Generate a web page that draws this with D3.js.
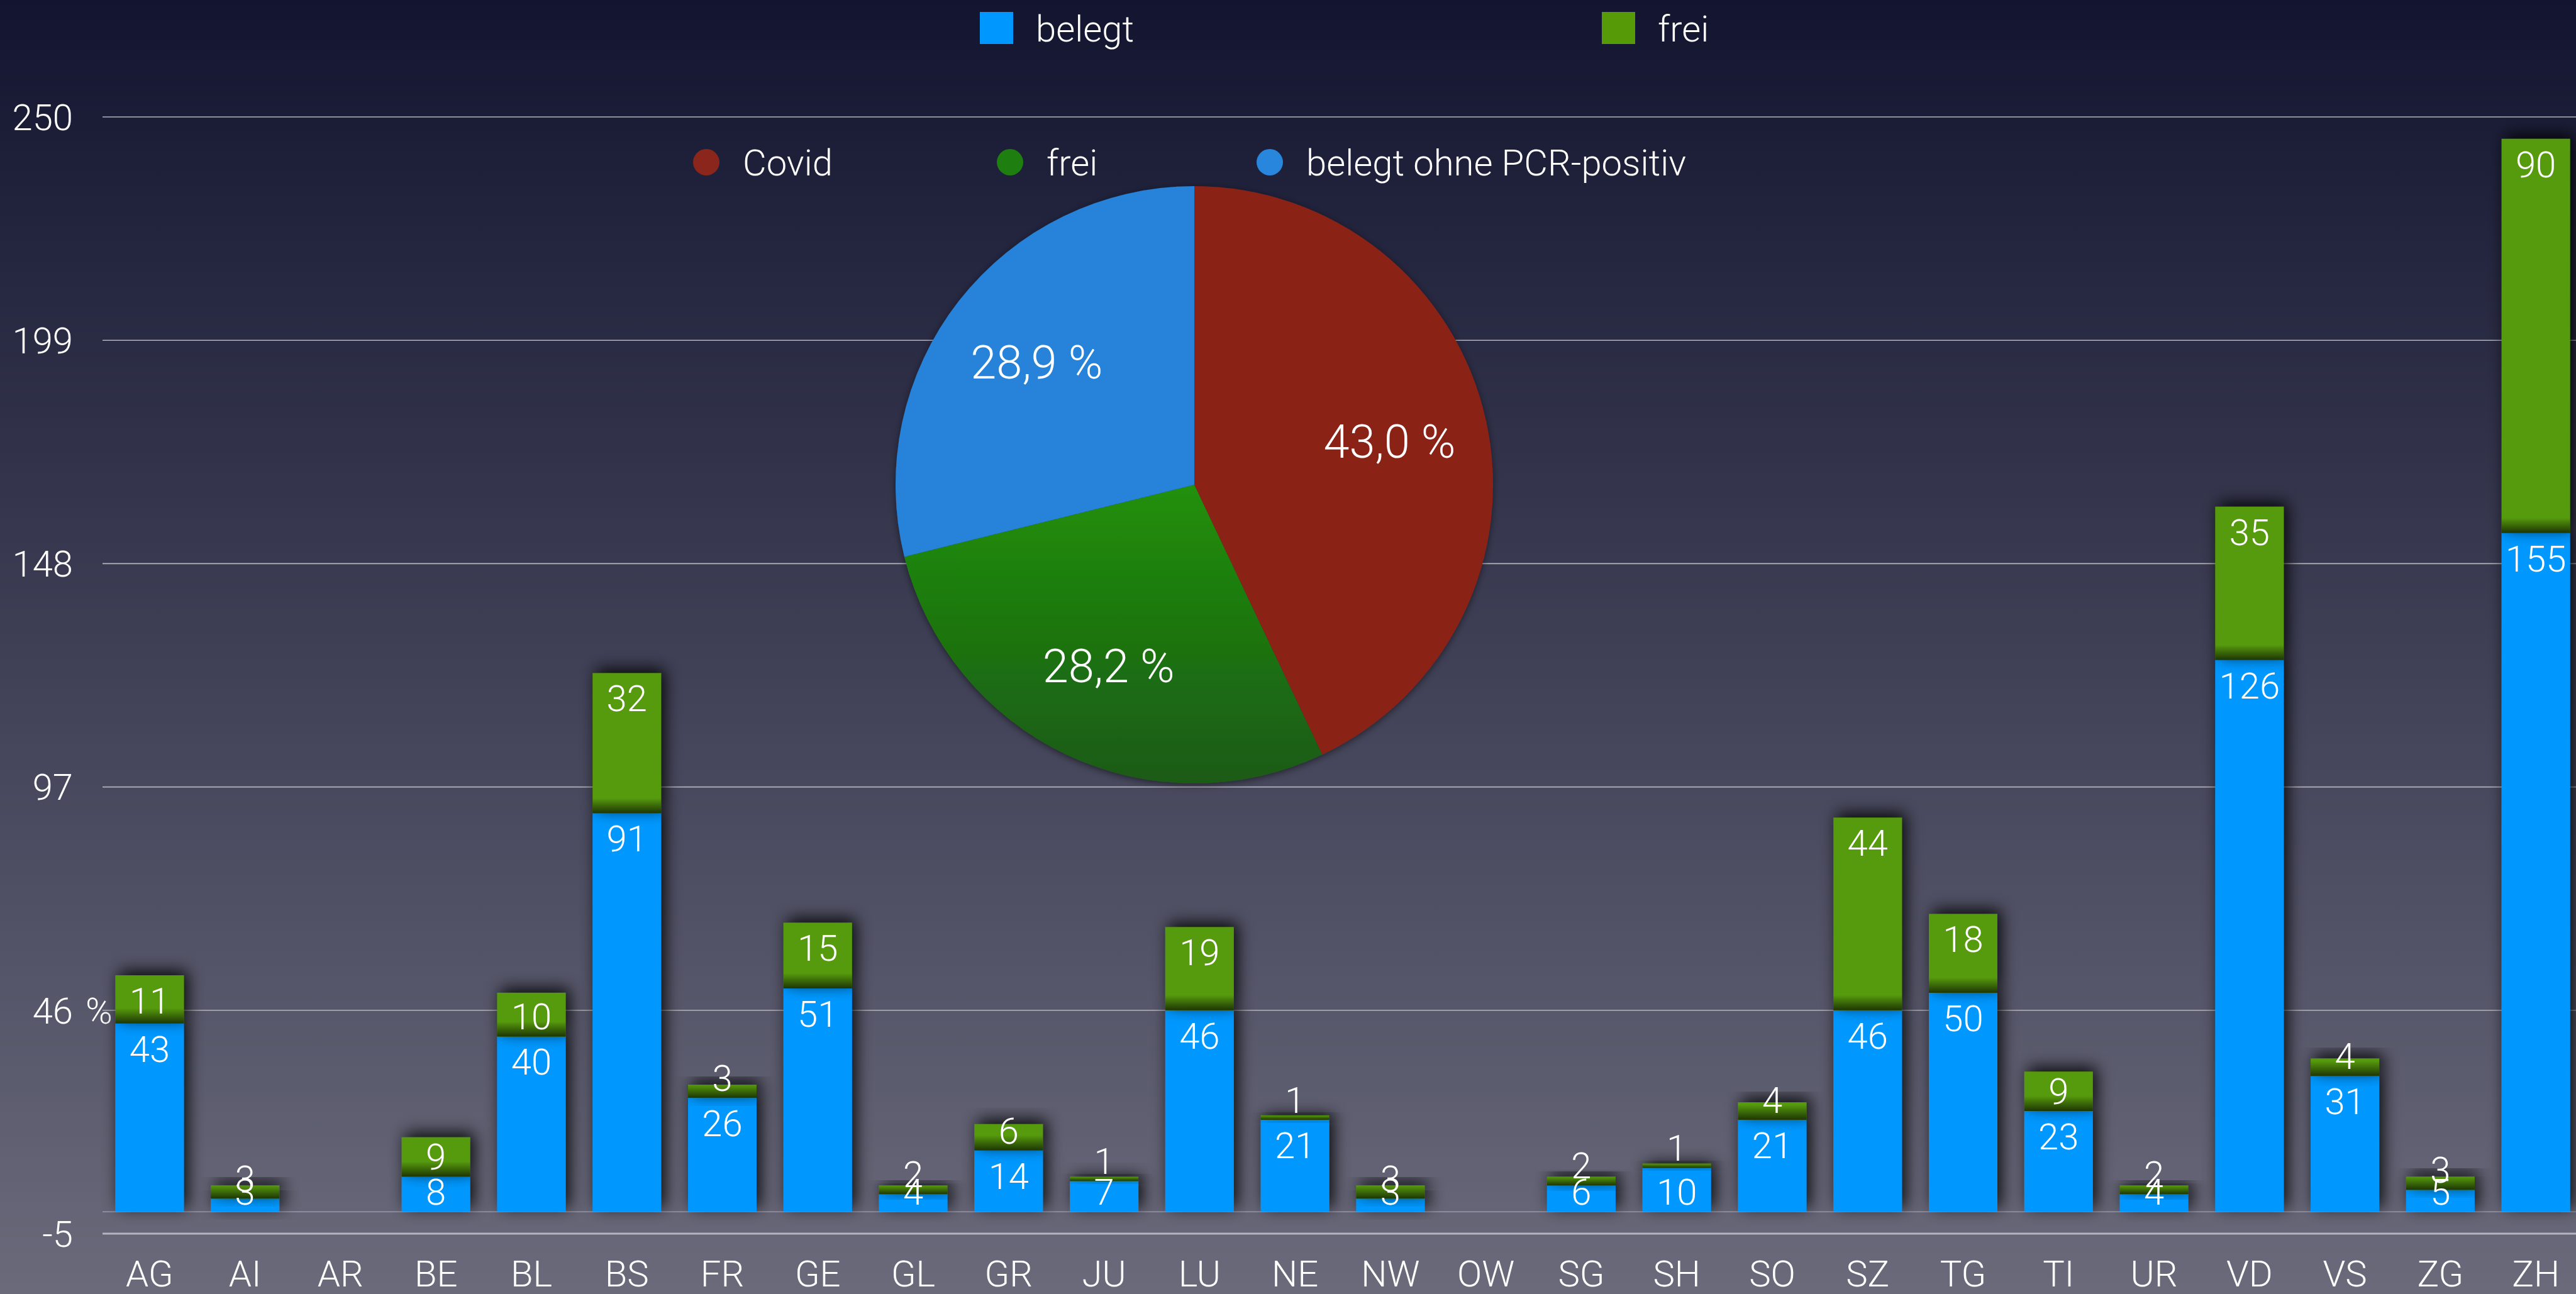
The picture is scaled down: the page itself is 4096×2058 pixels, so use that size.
<!DOCTYPE html>
<html>
<head>
<meta charset="utf-8">
<script src="https://cdn.jsdelivr.net/npm/d3@7"></script>
<style>
  html, body { margin: 0; padding: 0; background: #131530; }
  svg { display: block; }
  text { font-family: "Roboto", "Liberation Sans", sans-serif; font-weight: 300; fill: #fff; }
</style>
</head>
<body>
<svg id="chart"></svg>
<script>
// bar data: beds per canton
const cantons = ["AG","AI","AR","BE","BL","BS","FR","GE","GL","GR","JU","LU","NE","NW","OW","SG","SH","SO","SZ","TG","TI","UR","VD","VS","ZG","ZH"];
const belegt  = [43, 3, 0, 8, 40, 91, 26, 51, 4, 14, 7, 46, 21, 3, 0, 6, 10, 21, 46, 50, 23, 4, 126, 31, 5, 155];
const frei    = [11, 3, 0, 9, 10, 32, 3, 15, 2, 6, 1, 19, 1, 3, 0, 2, 1, 4, 44, 18, 9, 2, 35, 4, 3, 90];
const yTicks  = [-5, 46, 97, 148, 199, 250];
const barSeries = ["belegt", "frei"];

// pie data
const pieNames  = ["Covid", "frei", "belegt ohne PCR-positiv"];
const pieValues = [43.0, 28.2, 28.9];

const W = 4096, H = 2058;
const FS = 58;

const svg = d3.select("#chart").attr("width", W).attr("height", H);
const defs = svg.append("defs");

// background gradient
const bg = defs.append("linearGradient").attr("id", "bg").attr("x1", 0).attr("y1", 0).attr("x2", 0).attr("y2", 1);
bg.append("stop").attr("offset", "0%").attr("stop-color", "#131530");
bg.append("stop").attr("offset", "100%").attr("stop-color", "#6a6a7b");
svg.append("rect").attr("width", W).attr("height", H).attr("fill", "url(#bg)");

// shadows
const sh = defs.append("filter").attr("id", "shadow")
    .attr("x", "-60%").attr("y", "-60%").attr("width", "220%").attr("height", "220%");
sh.append("feDropShadow").attr("dx", 6).attr("dy", -7).attr("stdDeviation", 13)
    .attr("flood-color", "#000").attr("flood-opacity", 0.9);
const psh = defs.append("filter").attr("id", "pieshadow")
    .attr("x", "-20%").attr("y", "-20%").attr("width", "140%").attr("height", "140%");
psh.append("feDropShadow").attr("dx", 0).attr("dy", 3).attr("stdDeviation", 6)
    .attr("flood-color", "#000").attr("flood-opacity", 0.5);

// dark fade at the foot of the "frei" segments
const fade = defs.append("linearGradient").attr("id", "fade").attr("x1", 0).attr("y1", 0).attr("x2", 0).attr("y2", 1);
fade.append("stop").attr("offset", "0%").attr("stop-color", "#000").attr("stop-opacity", 0);
fade.append("stop").attr("offset", "100%").attr("stop-color", "#000").attr("stop-opacity", 0.65);

const pg = defs.append("linearGradient").attr("id", "pieGreen").attr("x1", 0).attr("y1", 0).attr("x2", 0).attr("y2", 1);
pg.append("stop").attr("offset", "0%").attr("stop-color", "#21900f");
pg.append("stop").attr("offset", "100%").attr("stop-color", "#1a5a13");

// scales
const x = d3.scaleBand().domain(cantons).range([162, 4108]).paddingInner(0.282).paddingOuter(0.141);
const y = d3.scaleLinear().domain([-5, 250]).range([1962, 186]);
const barColor = d3.scaleOrdinal().domain(barSeries).range(["#0098ff", "#579a07"]);

// gridlines + y labels
const grid = svg.append("g");
grid.selectAll("line.grid").data(yTicks).enter().append("line")
    .attr("class", "grid")
    .attr("x1", 163).attr("x2", W)
    .attr("y1", d => y(d)).attr("y2", d => y(d))
    .attr("stroke", "#b4b4be")
    .attr("stroke-width", d => d === -5 ? 3 : 1.6);
grid.append("line")
    .attr("x1", 163).attr("x2", W).attr("y1", y(0)).attr("y2", y(0))
    .attr("stroke", "#9a9aa8").attr("stroke-width", 1.5);

grid.selectAll("text.tick").data(yTicks).enter().append("text")
    .attr("class", "tick")
    .attr("x", 116).attr("y", d => y(d)).attr("dy", "0.36em")
    .attr("text-anchor", "end").attr("font-size", FS)
    .text(d => d);
// the "%" suffix sits after the 46 tick
grid.append("text")
    .attr("x", 136).attr("y", y(46)).attr("dy", "0.36em")
    .attr("font-size", FS).text("%");

// stacked bars
const stacked = d3.stack().keys(barSeries)(cantons.map((c, i) => ({ canton: c, belegt: belegt[i], frei: frei[i] })));

const bars = svg.append("g");
stacked.forEach(layer => {
  const segs = layer.filter(d => d[1] > d[0]);
  bars.append("g").selectAll("rect").data(segs).enter().append("rect")
      .attr("x", d => x(d.data.canton))
      .attr("width", x.bandwidth())
      .attr("y", d => y(d[1]))
      .attr("height", d => y(d[0]) - y(d[1]))
      .attr("fill", barColor(layer.key))
      .attr("filter", "url(#shadow)");
  if (layer.key === "frei") {
    bars.append("g").selectAll("rect").data(segs).enter().append("rect")
        .attr("x", d => x(d.data.canton))
        .attr("width", x.bandwidth())
        .attr("y", d => y(d[0]) - Math.min(24, y(d[0]) - y(d[1])))
        .attr("height", d => Math.min(24, y(d[0]) - y(d[1])))
        .attr("fill", "url(#fade)");
  }
});

// value labels
const labels = svg.append("g");
stacked.forEach(layer => {
  labels.selectAll(null).data(layer.filter(d => d[1] > d[0])).enter().append("text")
      .attr("x", d => x(d.data.canton) + x.bandwidth() / 2)
      .attr("y", d => Math.min(y(d[1]) + 40, y(d[0]) - 32))
      .attr("dy", "0.36em")
      .attr("text-anchor", "middle").attr("font-size", FS)
      .text(d => d[1] - d[0]);
});

// x axis labels
svg.append("g").selectAll("text").data(cantons).enter().append("text")
    .attr("x", d => x(d) + x.bandwidth() / 2)
    .attr("y", 2025).attr("dy", "0.36em")
    .attr("text-anchor", "middle").attr("font-size", FS)
    .text(d => d);

// top legend (bars)
const legTop = svg.append("g");
const legX = [1558, 2547];
barSeries.forEach((s, i) => {
  legTop.append("rect").attr("x", legX[i]).attr("y", 19).attr("width", 53).attr("height", 51).attr("fill", barColor(s));
  legTop.append("text").attr("x", legX[i] + 89).attr("y", 45).attr("dy", "0.36em")
      .attr("font-size", FS).text(s);
});

// pie
const pieColor = d3.scaleOrdinal().domain(pieNames).range(["#8a2219", "url(#pieGreen)", "#2583d9"]);
const dotColor = d3.scaleOrdinal().domain(pieNames).range(["#8b261d", "#1e7e10", "#2886dc"]);
const R = 475, cx = 1899, cy = 771;
const pie = d3.pie().sort(null).value(d => d.value);
const arcs = pie(pieNames.map((n, i) => ({ name: n, value: pieValues[i] })));
const arc = d3.arc().innerRadius(0).outerRadius(R);
const labelArc = d3.arc().innerRadius(R * 0.67).outerRadius(R * 0.67);

const pieG = svg.append("g").attr("transform", `translate(${cx},${cy})`);
pieG.append("g").attr("filter", "url(#pieshadow)")
  .selectAll("path").data(arcs).enter().append("path")
    .attr("d", arc)
    .attr("fill", d => pieColor(d.data.name));

const fmt = d3.format(".1f");
pieG.selectAll("text").data(arcs).enter().append("text")
    .attr("transform", d => `translate(${labelArc.centroid(d)})`)
    .attr("dy", "0.36em").attr("text-anchor", "middle")
    .attr("font-size", 74)
    .text(d => fmt(d.data.value).replace(".", ",") + " %");

// pie legend
const legPie = svg.append("g");
const dotX = [1123, 1606, 2019];
pieNames.forEach((n, i) => {
  legPie.append("circle").attr("cx", dotX[i]).attr("cy", 258).attr("r", 21).attr("fill", dotColor(n));
  legPie.append("text").attr("x", dotX[i] + 58).attr("y", 258).attr("dy", "0.36em")
      .attr("font-size", FS).text(n);
});
</script>
</body>
</html>
